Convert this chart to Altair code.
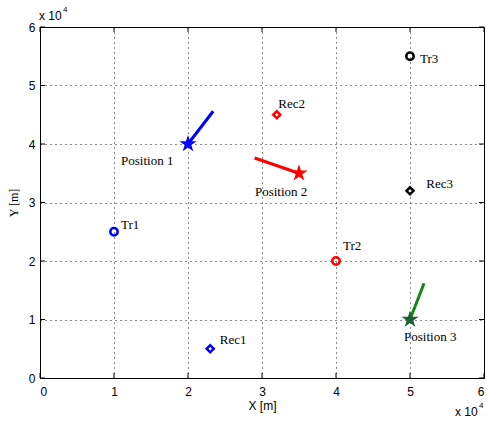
import altair as alt
import pandas as pd

W, H = 444, 351

# Transmitters (circles)
tr_names = ["Tr1", "Tr2", "Tr3"]
tr_x = [10000, 40000, 50000]
tr_y = [25000, 20000, 55000]
tr_col = ["#0000ff", "#ff0000", "#000000"]

# Receivers (diamonds)
rec_names = ["Rec1", "Rec2", "Rec3"]
rec_x = [23000, 32000, 50000]
rec_y = [5000, 45000, 32000]
rec_col = ["#0000ff", "#ff0000", "#000000"]

# Positions (stars) and heading segments
pos_names = ["Position 1", "Position 2", "Position 3"]
pos_x = [20000, 35000, 50000]
pos_y = [40000, 35000, 10000]
pos_col = ["#0000ff", "#ff0000", "#1e5e32"]
seg_x = [23400, 29000, 51900]
seg_y = [45600, 37600, 16200]
seg_col = ["#0000ff", "#ff0000", "#118811"]

# Text label anchors
lab_text = ["Tr1", "Tr2", "Tr3", "Rec1", "Rec2", "Rec3", "Position 1", "Position 2", "Position 3"]
lab_x = [10950, 40950, 51350, 24300, 32200, 52200, 10950, 29050, 49200]
lab_y = [26150, 22560, 54500, 6500, 46800, 33200, 37100, 31800, 7000]

ticks = [0, 10000, 20000, 30000, 40000, 50000, 60000]

xs = alt.Scale(domain=[0, 60000], nice=False, zero=False)
ys = alt.Scale(domain=[0, 60000], nice=False, zero=False)
lbl = "datum.value / 10000"

tr_df = pd.DataFrame({"name": tr_names, "x": tr_x, "y": tr_y, "c": tr_col})
rec_df = pd.DataFrame({"name": rec_names, "x": rec_x, "y": rec_y, "c": rec_col})
pos_df = pd.DataFrame({"name": pos_names, "x": pos_x, "y": pos_y, "c": pos_col})
seg_df = pd.DataFrame({"name": pos_names, "x": pos_x, "y": pos_y, "x2": seg_x, "y2": seg_y, "c": seg_col})
lab_df = pd.DataFrame({"t": lab_text, "x": lab_x, "y": lab_y})
tick_df = pd.DataFrame({"v": ticks})

base_axis_x = alt.Axis(values=ticks, labelExpr=lbl, title="X [m]", grid=True,
                       gridColor="#000000", gridDash=[1, 4], gridOpacity=0.9,
                       ticks=False, domain=False, labelFont="Liberation Sans",
                       labelFontSize=12, labelColor="#000", labelPadding=8,
                       titleFont="Liberation Sans", titleFontSize=12,
                       titleFontWeight="normal", titleColor="#000", titlePadding=3)
base_axis_y = alt.Axis(values=ticks, labelExpr=lbl, title="Y  [m]", grid=True,
                       gridColor="#000000", gridDash=[1, 4], gridOpacity=0.9,
                       ticks=False, domain=False, labelFont="Liberation Sans",
                       labelFontSize=12, labelColor="#000", labelPadding=5,
                       titleFont="Liberation Serif", titleFontSize=12,
                       titleFontWeight="normal", titleColor="#000", titlePadding=8)

frame = alt.Chart(tick_df).mark_point(opacity=0).encode(
    x=alt.X("v:Q", scale=xs, axis=base_axis_x),
    y=alt.Y("v:Q", scale=ys, axis=base_axis_y),
)

tl = 5
tb = alt.Chart(tick_df).mark_rule(color="#000").encode(x=alt.X("v:Q", scale=xs), y=alt.value(H), y2=alt.value(H - tl))
tt = alt.Chart(tick_df).mark_rule(color="#000").encode(x=alt.X("v:Q", scale=xs), y=alt.value(0), y2=alt.value(tl))
tlft = alt.Chart(tick_df).mark_rule(color="#000").encode(y=alt.Y("v:Q", scale=ys), x=alt.value(0), x2=alt.value(tl))
trt = alt.Chart(tick_df).mark_rule(color="#000").encode(y=alt.Y("v:Q", scale=ys), x=alt.value(W), x2=alt.value(W - tl))

segs = alt.Chart(seg_df).mark_rule(strokeWidth=3).encode(
    x=alt.X("x:Q", scale=xs), y=alt.Y("y:Q", scale=ys),
    x2="x2:Q", y2="y2:Q", color=alt.Color("c:N", scale=None))

star_path = ("M0,-1 L0.2245,-0.309 L0.9511,-0.309 L0.3633,0.118 L0.5878,0.809 "
             "L0,0.382 L-0.5878,0.809 L-0.3633,0.118 L-0.9511,-0.309 L-0.2245,-0.309 Z")
stars = alt.Chart(pos_df).mark_point(shape=star_path, filled=True, size=330, opacity=1).encode(
    x=alt.X("x:Q", scale=xs), y=alt.Y("y:Q", scale=ys), color=alt.Color("c:N", scale=None))

circles = alt.Chart(tr_df).mark_point(shape="circle", filled=False, size=55, strokeWidth=2.5, opacity=1).encode(
    x=alt.X("x:Q", scale=xs), y=alt.Y("y:Q", scale=ys), color=alt.Color("c:N", scale=None))

diamonds = alt.Chart(rec_df).mark_point(shape="diamond", filled=False, size=50, strokeWidth=2.5, opacity=1).encode(
    x=alt.X("x:Q", scale=xs), y=alt.Y("y:Q", scale=ys), color=alt.Color("c:N", scale=None))

labels = alt.Chart(lab_df).mark_text(align="left", baseline="middle", font="Liberation Serif",
                                     fontSize=13, color="#000").encode(
    x=alt.X("x:Q", scale=xs), y=alt.Y("y:Q", scale=ys), text="t:N")

exp_df = pd.DataFrame({"t": ["x 10"]})
sup_df = pd.DataFrame({"t": ["4"]})
exp1 = alt.Chart(exp_df).mark_text(align="left", baseline="alphabetic", font="Liberation Sans", fontSize=12, color="#000").encode(
    x=alt.value(-1), y=alt.value(-7), text="t:N")
sup1 = alt.Chart(sup_df).mark_text(align="left", baseline="alphabetic", font="Liberation Sans", fontSize=8, color="#000").encode(
    x=alt.value(23), y=alt.value(-15), text="t:N")
exp2 = alt.Chart(exp_df).mark_text(align="left", baseline="alphabetic", font="Liberation Sans", fontSize=12, color="#000").encode(
    x=alt.value(415), y=alt.value(H + 38), text="t:N")
sup2 = alt.Chart(sup_df).mark_text(align="left", baseline="alphabetic", font="Liberation Sans", fontSize=8, color="#000").encode(
    x=alt.value(439), y=alt.value(H + 30), text="t:N")

chart = alt.layer(frame, tb, tt, tlft, trt, segs, stars, circles, diamonds, labels,
                  exp1, sup1, exp2, sup2).properties(
    width=W, height=H,
    autosize=alt.AutoSizeParams(type="none"),
    padding={"left": 40, "top": 27, "right": 3, "bottom": 43},
    background="#ffffff",
).configure_view(stroke="#000000", strokeWidth=1)

chart.save("out.html", embed_options={"renderer": "svg", "actions": False})
